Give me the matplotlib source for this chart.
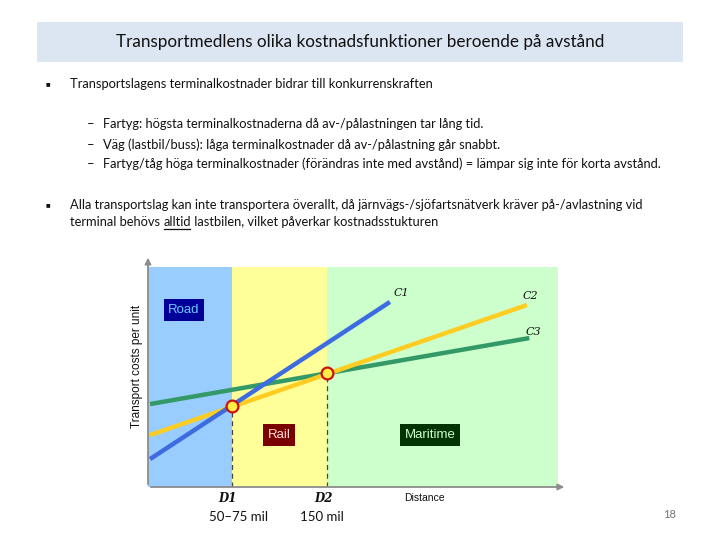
import matplotlib
matplotlib.use("Agg")
import matplotlib.pyplot as plt
from matplotlib.patches import Rectangle

# Slide text
title = "Transportmedlens olika kostnadsfunktioner beroende på avstånd"
bullet1 = "Transportslagens terminalkostnader bidrar till konkurrenskraften"
sub_items = [
    "Fartyg: högsta terminalkostnaderna då av-/pålastningen tar lång tid.",
    "Väg (lastbil/buss): låga terminalkostnader då av-/pålastning går snabbt.",
    "Fartyg/tåg höga terminalkostnader (förändras inte med avstånd) = lämpar sig inte för korta avstånd.",
]
bullet2_line1 = "Alla transportslag kan inte transportera överallt, då järnvägs-/sjöfartsnätverk kräver på-/avlastning vid"
bullet2_line2 = ["terminal behövs ", "alltid", " lastbilen, vilket påverkar kostnadsstukturen"]
page_number = "18"

# Chart data (distance 0-100, cost 0-100)
zone_edges = [0, 20.5, 43.7, 100]
zone_names = ["Road", "Rail", "Maritime"]
c1_x = [0.5, 59.0]
c1_y = [12.7, 84.1]
c2_x = [0.5, 92.4]
c2_y = [23.6, 82.7]
c3_x = [0.5, 93.0]
c3_y = [37.7, 67.7]
break_x = [20.5, 43.7]
break_y = [36.8, 51.8]
break_labels = ["D1", "D2"]
break_km = ["50–75 mil", "150 mil"]

W, H = 720, 540
FONT = ["Lato", "DejaVu Sans"]
ARIAL = ["Liberation Sans", "DejaVu Sans"]


def fx(px):
    return px / W


def fy(py):
    return 1 - py / H


fig = plt.figure(figsize=(7.2, 5.4), dpi=100)
fig.patch.set_facecolor("white")

# title band
fig.patches.append(Rectangle((fx(37), fy(62)), fx(683) - fx(37), fy(22) - fy(62),
                             transform=fig.transFigure, facecolor="#dce6f2",
                             edgecolor="none", zorder=0))
fig.text(fx(360), fy(42), title, ha="center", va="center", fontsize=12.3,
         family=FONT, color="#111111")

body = dict(fontsize=9.3, family=FONT, color="#111111", va="center")
bullet = dict(fontsize=6, family=FONT, color="#111111", va="center", ha="left")
fig.text(fx(46), fy(84), "■", **dict(bullet, fontsize=3.5))
fig.text(fx(70), fy(84), bullet1, ha="left", **body)
for i, item in enumerate(sub_items):
    yy = fy([124, 145, 164][i])
    fig.text(fx(87), yy, "–", ha="left", **body)
    fig.text(fx(103), yy, item, ha="left", **body)
fig.text(fx(46), fy(205), "■", **dict(bullet, fontsize=3.5))
fig.text(fx(70), fy(205), bullet2_line1, ha="left", **body)

# second line with underlined word
renderer = fig.canvas.get_renderer()
x_cur = 70
for k, part in enumerate(bullet2_line2):
    t = fig.text(fx(x_cur), fy(222), part, ha="left", **body)
    bb = t.get_window_extent(renderer=renderer)
    if k == 1:
        fig.add_artist(plt.Line2D([fx(x_cur + 1), fx(x_cur + bb.width - 1)],
                                  [fy(229), fy(229)], transform=fig.transFigure,
                                  color="#111111", lw=0.9))
    x_cur += bb.width

fig.text(fx(670), fy(515), page_number, ha="center", va="center",
         fontsize=8, family=FONT, color="#777777")

# chart
ax = fig.add_axes([fx(148), fy(487), fx(558) - fx(148), fy(267) - fy(487)])
ax.set_xlim(0, 100)
ax.set_ylim(0, 100)
zone_colors = ["#99ccff", "#ffff99", "#ccffcc"]
for i in range(3):
    ax.axvspan(zone_edges[i], zone_edges[i + 1], color=zone_colors[i], lw=0, zorder=0)

for s in ax.spines.values():
    s.set_visible(False)
ax.set_xticks([])
ax.set_yticks([])
ax.patch.set_alpha(0)

arrow = dict(arrowstyle="-|>", color="#8c8c8c", lw=1.3, mutation_scale=9)
ax.annotate("", xy=(0, 1.055), xytext=(0, 0), xycoords="axes fraction",
            arrowprops=arrow, annotation_clip=False)
ax.annotate("", xy=(1.022, 0), xytext=(0, 0), xycoords="axes fraction",
            arrowprops=arrow, annotation_clip=False)

for bx, by in zip(break_x, break_y):
    ax.plot([bx, bx], [0, by], ls=(0, (4, 3)), color="#444444", lw=0.9, zorder=2)

ax.plot(c3_x, c3_y, color="#339966", lw=3.2, solid_capstyle="butt", zorder=3)
ax.plot(c2_x, c2_y, color="#ffcc22", lw=3.2, solid_capstyle="butt", zorder=4)
ax.plot(c1_x, c1_y, color="#3d6be0", lw=3.2, solid_capstyle="butt", zorder=5)
ax.plot(break_x, break_y, ls="none", marker="o", ms=8.5, mfc="#ffee44",
        mec="#cc1111", mew=1.6, zorder=6)

serif_it = dict(family="DejaVu Serif", style="italic", fontsize=8, color="#111111")
ax.text(c1_x[-1] + 0.8, c1_y[-1] + 2.0, "C1", ha="left", va="bottom", **serif_it)
ax.text(c2_x[-1] - 1.0, c2_y[-1] + 2.0, "C2", ha="left", va="bottom", **serif_it)
ax.text(c3_x[-1] - 1.0, c3_y[-1] + 0.5, "C3", ha="left", va="bottom", **serif_it)

for bx, lab, km in zip(break_x, break_labels, break_km):
    ax.text(bx - 1, -5, lab, ha="center", va="center", family="DejaVu Serif",
            style="italic", fontweight="bold", fontsize=8.5, color="#111111")
    ax.text(bx + (1.5 if lab == "D1" else -1.2), -13.5, km, ha="center", va="center",
            fontsize=9.5, family=FONT, color="#111111")
ax.text(67.5, -5, "Distance", ha="center", va="center", fontsize=7.5,
        family=ARIAL, color="#111111")

ax.text(-2.7, 55, "Transport costs per unit", rotation=90, ha="center", va="center",
        fontsize=8.5, family=ARIAL, color="#111111")

box_style = [("#000099", "#66ccff"), ("#7a0000", "#ffdddd"), ("#003300", "#ccffcc")]
box_pos = [(8.8, 80.5), (32.0, 23.6), (68.8, 23.6)]
for name, (bg, fg), (bx, by) in zip(zone_names, box_style, box_pos):
    ax.text(bx, by, name, ha="center", va="center", fontsize=9.5,
            family=ARIAL, color=fg,
            bbox=dict(boxstyle="square,pad=0.35", facecolor=bg, edgecolor="none"))

fig.savefig("out.png", dpi=100)
